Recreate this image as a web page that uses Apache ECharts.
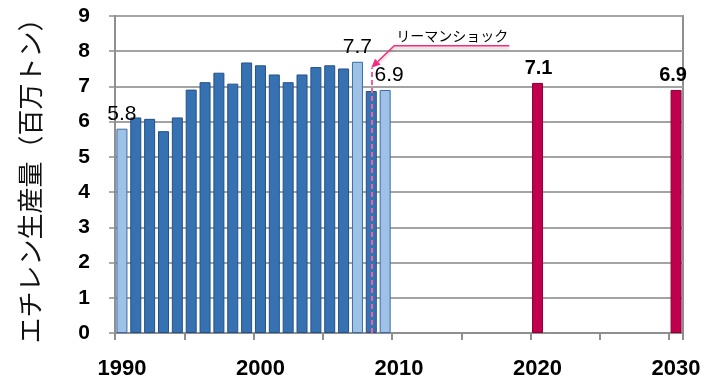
<!DOCTYPE html>
<html>
<head>
<meta charset="utf-8">
<script src="https://cdn.jsdelivr.net/npm/echarts@6/dist/echarts.min.js"></script>
<style>
  html, body { margin: 0; padding: 0; background: #fff; }
  #chart { width: 711px; height: 384px; }
</style>
</head>
<body>
<div id="chart"></div>
<script>
// Ethylene production, million tonnes
const firstYear = 1990;
const lastYear = 2030;
const actualYears = [1990, 1991, 1992, 1993, 1994, 1995, 1996, 1997, 1998, 1999,
                     2000, 2001, 2002, 2003, 2004, 2005, 2006, 2007, 2008, 2009];
const actualValues = [5.8, 6.12, 6.08, 5.73, 6.12, 6.91, 7.12, 7.39, 7.08, 7.68,
                      7.6, 7.34, 7.12, 7.34, 7.55, 7.6, 7.51, 7.7, 6.87, 6.9];
const forecastYears = [2020, 2030];
const forecastValues = [7.1, 6.9];
const highlightYears = [1990, 2007, 2009];      // light-blue bars with value labels
const shockYear = 2008;
const shockLabel = 'リーマンショック';
const yTicks = [0, 1, 2, 3, 4, 5, 6, 7, 8, 9];
const yName = 'エチレン生産量（百万トン）';

const categories = [];
for (let y = firstYear; y <= lastYear; y++) categories.push(String(y));

const DARK = { color: '#3672b2', borderColor: '#24508a', borderWidth: 1 };
const LIGHT = { color: '#9ec2e5', borderColor: '#3a6ba6', borderWidth: 1 };
const FUTURE = { color: '#c0004c', borderColor: '#8c0036', borderWidth: 1 };

const barData = categories.map(c => {
  const y = Number(c);
  const ai = actualYears.indexOf(y);
  const fi = forecastYears.indexOf(y);
  if (ai >= 0) {
    const hl = highlightYears.indexOf(y) >= 0;
    const item = { value: actualValues[ai], itemStyle: hl ? LIGHT : DARK };
    if (hl) {
      item.label = {
        show: true, position: 'top', distance: 4,
        fontSize: 21, color: '#000', fontFamily: 'Liberation Sans, Arial, sans-serif',
        formatter: v => v.value.toFixed(1),
        offset: y === 2009 ? [4, 0] : [0, 0]
      };
    }
    return item;
  }
  if (fi >= 0) {
    return {
      value: forecastValues[fi], itemStyle: FUTURE,
      label: {
        show: true, position: 'top', distance: 4,
        fontSize: 20, fontWeight: 'bold', color: '#000',
        fontFamily: 'Liberation Sans, Arial, sans-serif',
        formatter: v => v.value.toFixed(1),
        offset: y === 2030 ? [-3, 0] : [1, 0]
      }
    };
  }
  return null;
});

const chart = echarts.init(document.getElementById('chart'), null, { renderer: 'canvas' });
const axisGray = '#8f8f8f';
const PINK = '#f72a7c';

chart.setOption({
  animation: false,
  grid: { left: 115, right: 28, top: 16, bottom: 51, show: true, borderColor: axisGray, borderWidth: 2 },
  xAxis: {
    type: 'category',
    data: categories,
    boundaryGap: true,
    axisLine: { lineStyle: { color: axisGray, width: 2 } },
    axisTick: { show: true, interval: 4, length: 7, lineStyle: { color: axisGray, width: 2 } },
    axisLabel: {
      interval: 9, margin: 25, fontSize: 22, fontWeight: 'bold', color: '#000',
      fontFamily: 'Liberation Sans, Arial, sans-serif'
    },
    splitLine: { show: false }
  },
  yAxis: {
    type: 'value',
    min: yTicks[0], max: yTicks[yTicks.length - 1], interval: 1,
    name: yName,
    nameLocation: 'middle',
    nameGap: 72,
    nameTextStyle: { fontSize: 26, color: '#111', fontFamily: 'Noto Sans CJK JP, sans-serif' },
    axisLine: { show: true, lineStyle: { color: axisGray, width: 2 } },
    axisTick: { show: true, length: 6, lineStyle: { color: axisGray, width: 1.5 } },
    axisLabel: {
      margin: 25, fontSize: 21, fontWeight: 'bold', color: '#000',
      fontFamily: 'Liberation Sans, Arial, sans-serif'
    },
    splitLine: { lineStyle: { color: '#a3a3a3', width: 2 } }
  },
  series: [{
    type: 'bar',
    data: barData,
    barWidth: 11,
    markLine: {
      silent: true,
      symbol: ['none', 'none'],
      label: { show: false },
      lineStyle: { color: '#f45f9a', type: [5, 3], width: 2 },
      data: [[{ coord: [String(shockYear), 0] }, { coord: [String(shockYear), 7.53] }]],
      z: 5
    }
  }]
});

// Callout for the financial-crisis marker: anchored at the top of the dashed line
const tip = chart.convertToPixel({ seriesIndex: 0 }, [String(shockYear), 7.53]);
const elbow = [tip[0] + 23, tip[1] - 22];
const tail = [elbow[0] + 115, elbow[1]];
const dx = tip[0] - elbow[0], dy = tip[1] - elbow[1];
const len = Math.sqrt(dx * dx + dy * dy);
const ux = dx / len, uy = dy / len;
const headLen = 9, headW = 4;
const base = [tip[0] - ux * headLen, tip[1] - uy * headLen];
const shadow = { shadowColor: 'rgba(0,0,0,0.25)', shadowBlur: 3, shadowOffsetY: 2 };

chart.setOption({
  graphic: [
    {
      type: 'polyline', z: 10,
      shape: { points: [tail, elbow, base] },
      style: Object.assign({ stroke: PINK, lineWidth: 1.5, fill: null }, shadow)
    },
    {
      type: 'polygon', z: 10,
      shape: { points: [tip,
        [base[0] - uy * headW, base[1] + ux * headW],
        [base[0] + uy * headW, base[1] - ux * headW]] },
      style: { fill: PINK }
    },
    {
      type: 'text', z: 10,
      x: elbow[0] + 2, y: elbow[1] - 3,
      style: {
        text: shockLabel, fill: '#000', fontSize: 14,
        fontFamily: 'Noto Sans CJK JP, sans-serif',
        textAlign: 'left', textVerticalAlign: 'bottom'
      }
    }
  ]
});
</script>
</body>
</html>
